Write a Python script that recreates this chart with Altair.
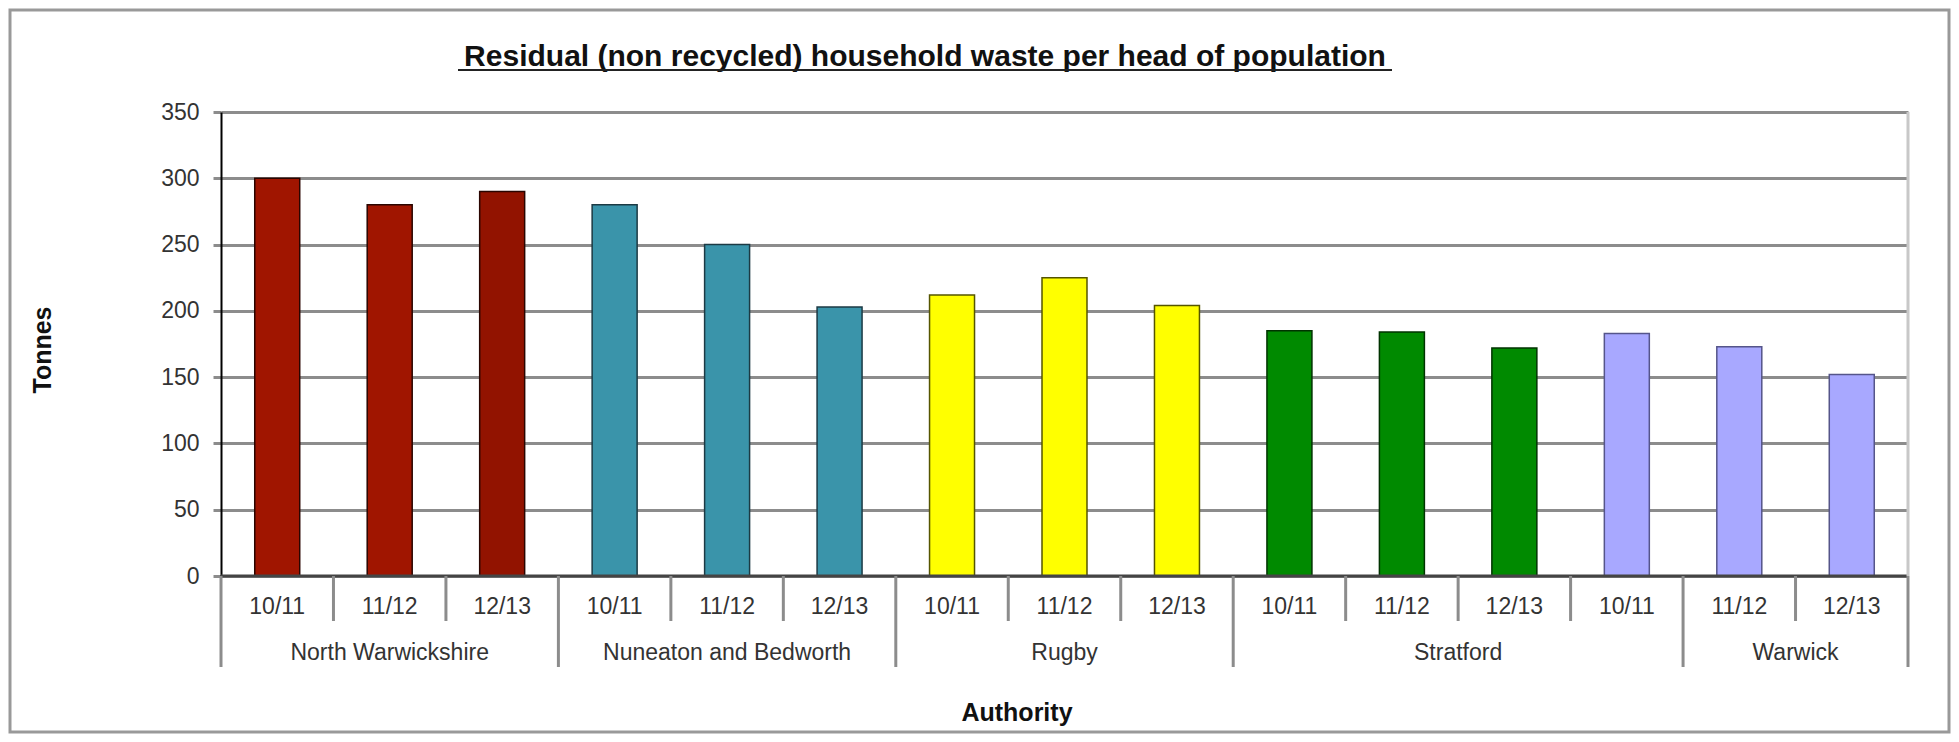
import altair as alt
import pandas as pd

# ---- data ----
years = ["10/11", "11/12", "12/13"] * 5
values = [300, 280, 290, 280, 250, 203, 212, 225, 204, 185, 184, 172, 183, 173, 152]
bar_colors = ["#A01500", "#A01500", "#921300",
              "#3A94AA", "#3A94AA", "#3A94AA",
              "#FFFF00", "#FFFF00", "#FFFF00",
              "#008A00", "#008A00", "#008A00",
              "#A8A8FF", "#A8A8FF", "#A8A8FF"]
bar_strokes = ["#2a0500", "#2a0500", "#2a0500",
               "#1c3a44", "#1c3a44", "#1c3a44",
               "#555500", "#555500", "#555500",
               "#003300", "#003300", "#003300",
               "#55558a", "#55558a", "#55558a"]

# group labels as laid out in the original (spans in bar slots)
group_names = ["North Warwickshire", "Nuneaton and Bedworth", "Rugby", "Stratford", "Warwick"]
group_start = [0, 3, 6, 9, 13]
group_end = [3, 6, 9, 13, 15]
minor_ticks = [1, 2, 4, 5, 7, 8, 10, 11, 12, 14]
major_ticks = [0, 3, 6, 9, 13, 15]
y_ticks = [0, 50, 100, 150, 200, 250, 300, 350]

title_text = "Residual (non recycled) household waste per head of population"
x_title = "Authority"
y_title = "Tonnes"

W, H = 1687, 464
PAD = {"left": 213, "top": 104, "right": 43, "bottom": 158}
FONT = "Liberation Sans"

bars = pd.DataFrame({
    "slot": list(range(len(values))),
    "year": years,
    "value": values,
    "color": bar_colors,
    "stroke": bar_strokes,
})
groups = pd.DataFrame({"name": group_names, "start": group_start, "end": group_end})

xs = alt.Scale(domain=[0, 15], nice=False, zero=False)
ys = alt.Scale(domain=[0, 350], nice=False)
y_axis = alt.Axis(
    values=y_ticks, grid=True, gridColor="#8c8c8c", gridWidth=3,
    domain=True, domainColor="#000000", domainWidth=2,
    ticks=True, tickColor="#8c8c8c", tickWidth=3, tickSize=8,
    labelFont=FONT, labelFontSize=23, labelColor="#333333", labelPadding=14,
    title=None)

bar_layer = alt.Chart(bars).transform_calculate(
    x0="datum.slot + 0.3", x1="datum.slot + 0.7", base="0"
).mark_bar(strokeWidth=1.5).encode(
    x=alt.X("x0:Q", scale=xs, axis=None),
    x2="x1:Q",
    y=alt.Y("value:Q", scale=ys, axis=y_axis),
    y2="base:Q",
    color=alt.Color("color:N", scale=None),
    stroke=alt.Stroke("stroke:N", scale=None),
)

baseline = alt.Chart(pd.DataFrame({"a": [0], "b": [15], "v": [0]})).mark_rule(
    color="#444444", strokeWidth=3).encode(
    x=alt.X("a:Q", scale=xs, axis=None), x2="b:Q", y=alt.Y("v:Q", scale=ys, axis=y_axis))

right_edge = alt.Chart(pd.DataFrame({"a": [15], "lo": [0], "hi": [350]})).mark_rule(
    color="#c8c8c8", strokeWidth=3).encode(
    x=alt.X("a:Q", scale=xs, axis=None), y=alt.Y("lo:Q", scale=ys, axis=y_axis), y2="hi:Q")

minor = alt.Chart(pd.DataFrame({"p": minor_ticks})).mark_rule(
    color="#8c8c8c", strokeWidth=3).encode(
    x=alt.X("p:Q", scale=xs, axis=None), y=alt.value(H), y2=alt.value(H + 45))

major = alt.Chart(pd.DataFrame({"p": major_ticks})).mark_rule(
    color="#8c8c8c", strokeWidth=3).encode(
    x=alt.X("p:Q", scale=xs, axis=None), y=alt.value(H), y2=alt.value(H + 91))

year_labels = alt.Chart(bars).transform_calculate(xc="datum.slot + 0.5").mark_text(
    font=FONT, fontSize=23, color="#333333", baseline="middle", align="center").encode(
    x=alt.X("xc:Q", scale=xs, axis=None), y=alt.value(H + 31), text="year:N")

group_labels = alt.Chart(groups).transform_calculate(xc="(datum.start + datum.end) / 2").mark_text(
    font=FONT, fontSize=23, color="#333333", baseline="middle", align="center").encode(
    x=alt.X("xc:Q", scale=xs, axis=None), y=alt.value(H + 77), text="name:N")

texts = pd.DataFrame({"t": [title_text], "xt": [x_title], "yt": [y_title]})

title = alt.Chart(texts).mark_text(
    font=FONT, fontSize=30, fontWeight="bold", color="#111111", align="center",
    baseline="alphabetic").encode(x=alt.value(704), y=alt.value(-46), text="t:N")

underline = alt.Chart(texts).mark_rule(color="#222222", strokeWidth=2).encode(
    x=alt.value(237), x2=alt.value(1171), y=alt.value(-42))

xtitle = alt.Chart(texts).mark_text(
    font=FONT, fontSize=25, fontWeight="bold", color="#111111", align="center",
    baseline="middle").encode(x=alt.value(796), y=alt.value(H + 137), text="xt:N")

ytitle = alt.Chart(texts).mark_text(
    font=FONT, fontSize=25, fontWeight="bold", color="#111111", align="center",
    baseline="middle", angle=270).encode(x=alt.value(-178), y=alt.value(238), text="yt:N")

frame = alt.Chart(texts).mark_rect(filled=False, stroke="#999999", strokeWidth=3).encode(
    x=alt.value(-PAD["left"] + 2), x2=alt.value(W + PAD["right"] - 2),
    y=alt.value(-PAD["top"] + 2), y2=alt.value(H + PAD["bottom"] - 2))

chart = alt.layer(
    bar_layer, baseline, right_edge, minor, major, year_labels, group_labels,
    title, underline, xtitle, ytitle, frame
).properties(
    width=W, height=H,
    autosize=alt.AutoSizeParams(type="none"),
    padding=PAD,
    background="white",
).configure_view(stroke=None)

chart.save("out.html", embed_options={"renderer": "svg", "actions": False})
